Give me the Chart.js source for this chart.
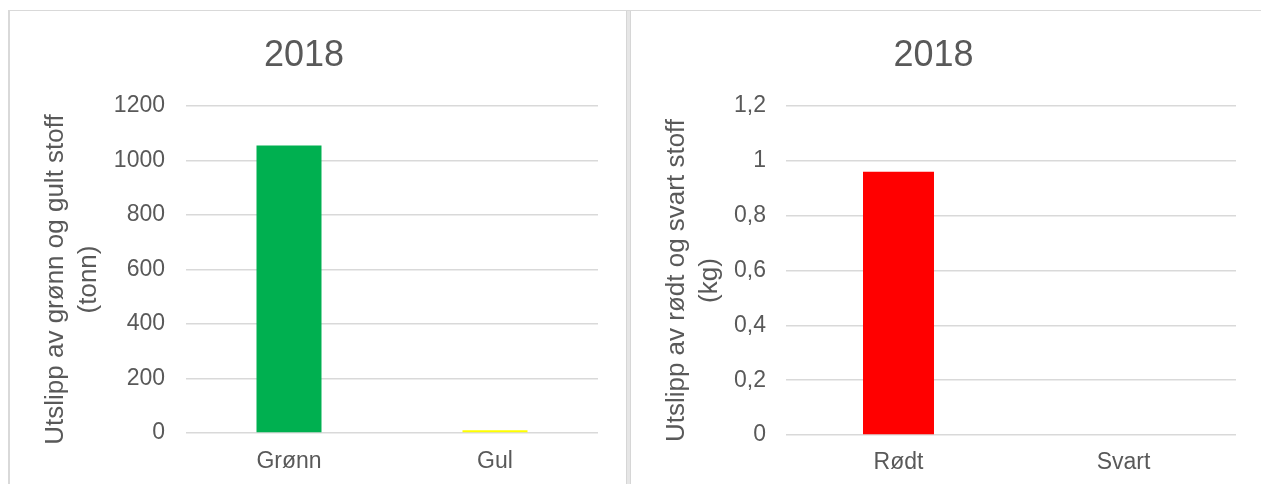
<!DOCTYPE html>
<html>
<head>
<meta charset="utf-8">
<script src="https://cdn.jsdelivr.net/npm/chart.js@4"></script>
<style>
  body { margin: 0; background: #fff; }
  #frame { position: absolute; left: 8px; top: 10px; width: 1253px; height: 474px;
           border-top: 1px solid #d9d9d9; border-left: 2px solid #d9d9d9; box-sizing: border-box; }
  #divider { position: absolute; left: 626px; top: 11px; width: 5px; height: 473px;
             background: #e6e6e6; border-left: 1px solid #d6d6d6; border-right: 1px solid #d6d6d6; box-sizing: border-box; }
  #leftChart { position: absolute; left: 10px; top: 11px; }
  #rightChart { position: absolute; left: 631px; top: 11px; }
</style>
</head>
<body>
<div id="frame"></div>
<div id="divider"></div>
<canvas id="leftChart" width="616" height="473"></canvas>
<canvas id="rightChart" width="630" height="473"></canvas>
<script>
// Data
const titleText = "2018";
const leftCategories = ["Grønn", "Gul"];
const leftValues = [1055, 10];
const leftColors = ["#00B050", "#FFFF00"];
const leftTickLabels = ["0", "200", "400", "600", "800", "1000", "1200"];
const leftAxisTitle = ["Utslipp av grønn og gult stoff", "(tonn)"];

const rightCategories = ["Rødt", "Svart"];
const rightValues = [0.96, 0];
const rightColors = ["#FF0000", "#000000"];
const rightTickLabels = ["0", "0,2", "0,4", "0,6", "0,8", "1", "1,2"];
const rightAxisTitle = ["Utslipp av rødt og svart stoff", "(kg)"];

const textColor = "#595959";
const gridColor = "#d9d9d9";
const fontFamily = "'Liberation Sans', Arial, sans-serif";

Chart.defaults.font.family = fontFamily;
Chart.defaults.color = textColor;

// draws the two-line rotated y axis title
const axisTitlePlugin = {
    id: "axisTitle",
    afterDraw(chart, args, opts) {
        const ctx = chart.ctx;
        const area = chart.chartArea;
        const cy = (area.top + area.bottom) / 2 + opts.offsetY;
        ctx.save();
        ctx.fillStyle = textColor;
        ctx.font = opts.size + "px " + fontFamily;
        ctx.textAlign = "center";
        ctx.textBaseline = "middle";
        opts.lines.forEach((line, i) => {
            ctx.save();
            ctx.translate(opts.xs[i], cy);
            ctx.rotate(-Math.PI / 2);
            ctx.fillText(line, 0, 0);
            ctx.restore();
        });
        ctx.restore();
    }
};

function makeChart(id, categories, values, colors, tickLabels, yMax, yStep, axisTitle, cfg) {
    const ctx = document.getElementById(id).getContext("2d");
    return new Chart(ctx, {
        type: "bar",
        data: {
            labels: categories,
            datasets: [{
                data: values,
                backgroundColor: colors,
                barPercentage: 0.3155,
                categoryPercentage: 1
            }]
        },
        plugins: [axisTitlePlugin],
        options: {
            responsive: false,
            animation: false,
            devicePixelRatio: 1,
            layout: { padding: { left: 0, right: cfg.padRight, top: 0, bottom: 0 } },
            plugins: {
                legend: { display: false },
                tooltip: { enabled: false },
                title: {
                    display: true,
                    text: titleText,
                    color: textColor,
                    font: { size: 36, weight: "normal" },
                    padding: { top: 23, bottom: 28.8 }
                },
                axisTitle: { lines: axisTitle, xs: [46, 79], size: 26, offsetY: 10 }
            },
            scales: {
                x: {
                    grid: { display: false, drawTicks: false },
                    border: { display: false },
                    ticks: { font: { size: 23 }, color: textColor, padding: cfg.xPad },
                    afterFit: s => { s.height = cfg.xHeight; }
                },
                y: {
                    min: 0,
                    max: yMax,
                    grid: { color: gridColor, lineWidth: 1.5, drawTicks: false },
                    border: { display: false },
                    ticks: {
                        stepSize: yStep,
                        font: { size: 23 },
                        color: textColor,
                        padding: cfg.yPad,
                        callback: (v, i) => tickLabels[i]
                    },
                    afterFit: s => { s.width = cfg.yWidth; }
                }
            }
        }
    });
}

makeChart("leftChart", leftCategories, leftValues, leftColors, leftTickLabels, 1200, 200, leftAxisTitle,
    { padRight: 28, yWidth: 176, yPad: 21, xHeight: 51, xPad: 15 });
makeChart("rightChart", rightCategories, rightValues, rightColors, rightTickLabels, 1.2, 0.2, rightAxisTitle,
    { padRight: 25, yWidth: 155, yPad: 20, xHeight: 49, xPad: 14 });
</script>
</body>
</html>
